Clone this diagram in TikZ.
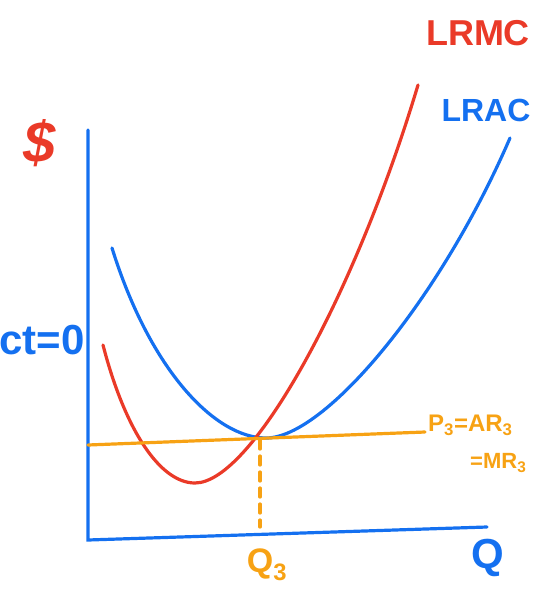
\documentclass[tikz,border=0pt]{standalone}
\usepackage{fontspec}
\setmainfont{Liberation Sans}
\definecolor{cred}{RGB}{234,58,40}
\definecolor{cblue}{RGB}{20,112,240}
\definecolor{corange}{RGB}{247,162,20}
\begin{document}
\begin{tikzpicture}[x=1pt,y=-1pt,
  curve/.style={line width=3.2pt,line cap=round},
  lab/.style={inner sep=0pt,font=\fontsize{#1}{#1}\selectfont\bfseries}]
\useasboundingbox (0,0) rectangle (539,589);
% axes
\coordinate (ytop) at (88,130);
\coordinate (origin) at (88,540);
\coordinate (xend) at (487,527);
\draw[curve,cblue] (ytop) -- (origin) -- (xend);
% LRAC
\coordinate (acs) at (112,248);
\coordinate (acmin) at (266,438);
\coordinate (ace) at (510,138);
\draw[curve,cblue] (acs) .. controls (150,370) and (215,438) .. (acmin)
  .. controls (325,438) and (440,300) .. (ace);
% LRMC
\coordinate (mcs) at (103,345);
\coordinate (mcmin) at (195,483);
\coordinate (mce) at (418,85);
\draw[curve,cred] (mcs) .. controls (125,430) and (160,483) .. (mcmin)
  .. controls (252,483) and (355,295) .. (mce);
% price line
\coordinate (ps) at (88,445);
\coordinate (pe) at (425,432);
\draw[curve,corange] (ps) -- (pe);
% dashed
\coordinate (eq) at (260,440);
\coordinate (q3) at (260,527);
\draw[curve,corange,dash pattern=on 9pt off 7pt] (eq) -- (q3);
% labels
\node[lab=36,text=cred] (lrmc) at (478,33) {LRMC};
\node[lab=32,text=cblue] (lrac) at (486,110) {LRAC};
\node[lab=58,text=cred] (dollar) at (40,143) {\textit{\$}};
\node[lab=42,text=cblue,anchor=east] (pi0) at (85,340) {ct=0};
\node[lab=24,text=corange,anchor=west] (p3) at (428,425) {P\textsubscript{3}=AR\textsubscript{3}};
\node[lab=22,text=corange,anchor=west] (mr3) at (470,463) {=MR\textsubscript{3}};
\node[lab=34,text=corange] (q3l) at (267,565) {Q\textsubscript{3}};
\node[lab=42,text=cblue] (ql) at (488,558) {Q};
\end{tikzpicture}
\end{document}
